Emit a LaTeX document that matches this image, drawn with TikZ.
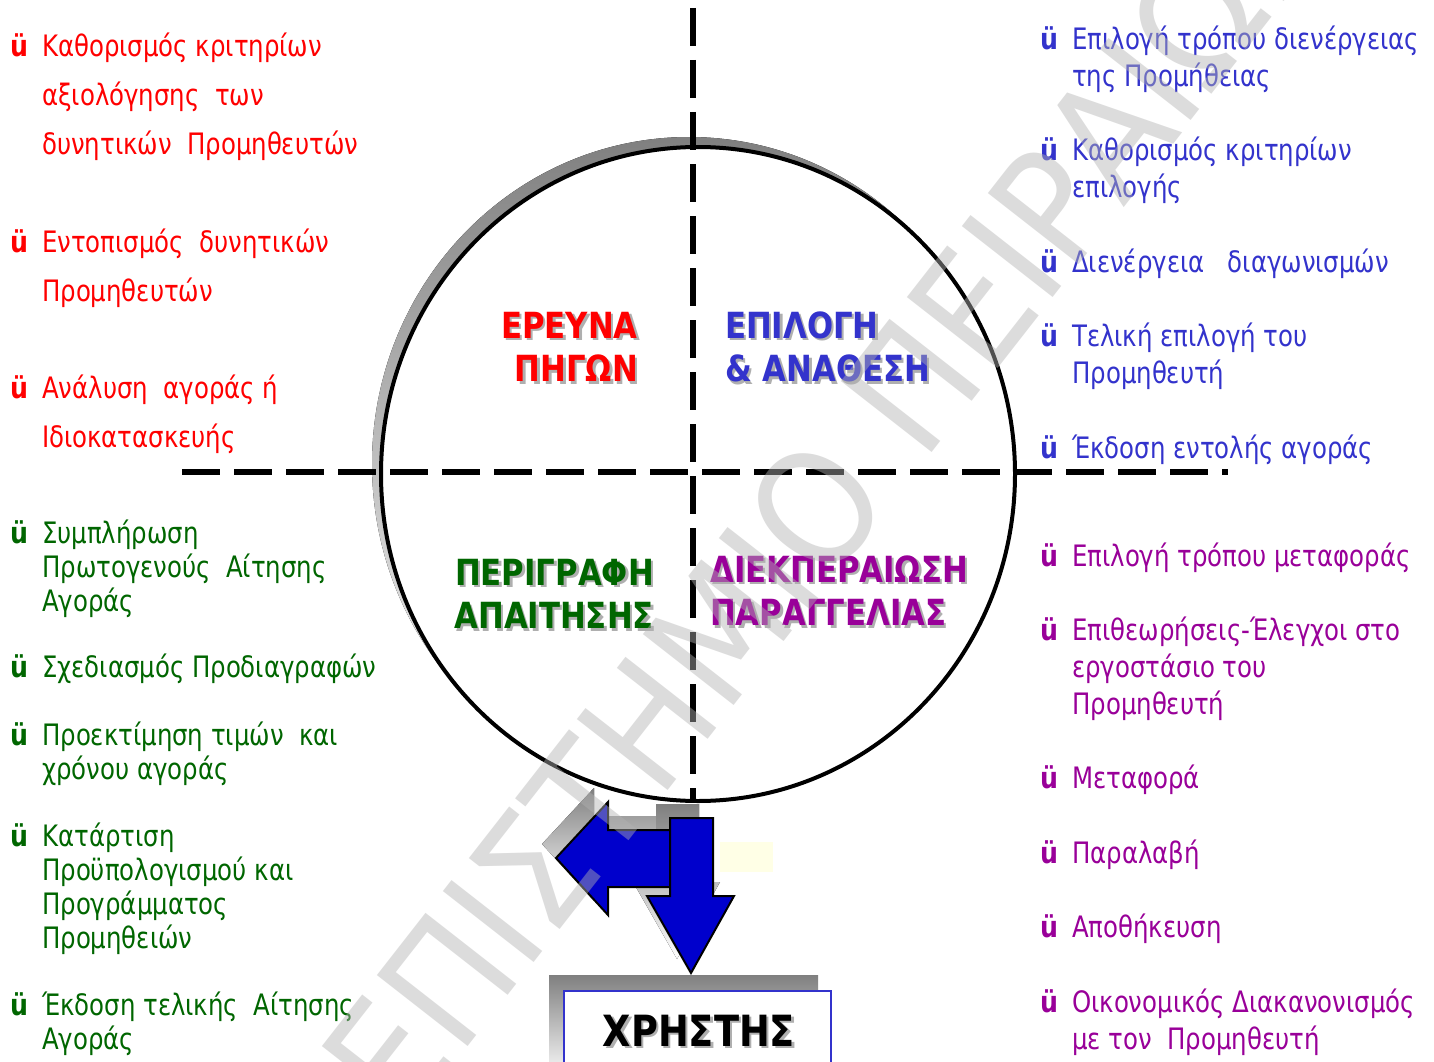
\documentclass[tikz,border=0pt]{standalone}
\usepackage{fontspec}
\setmainfont{DejaVu Sans Condensed}[UprightFeatures={FakeStretch=0.92}, BoldFont={DejaVu Sans Condensed Bold}, BoldFeatures={FakeStretch=0.95}]
\newfontfamily\wmfont{DejaVu Sans Condensed}

\definecolor{rd}{RGB}{255,0,0}
\definecolor{gr}{RGB}{0,102,0}
\definecolor{bl}{RGB}{51,51,204}
\definecolor{pu}{RGB}{153,0,153}
\definecolor{arrowblue}{RGB}{0,0,204}
\definecolor{shade}{RGB}{153,153,153}
\definecolor{txtshade}{RGB}{175,175,175}
\definecolor{pale}{RGB}{255,255,230}
\definecolor{wmgray}{RGB}{178,178,178}

% shadowed heading text
\newcommand{\shd}[1]{\rlap{\kern2.5pt\raisebox{-2.5pt}{\color{txtshade}#1}}#1}
% check-mark item, lines after the first start with &
\newcommand{\chk}[1]{\begin{tabular}[t]{@{}l@{}l@{}}\makebox[32pt][l]{\bfseries ü}&#1\end{tabular}}

\tikzset{
	redpt/.style={anchor=base west, inner sep=0pt, text=rd, font=\fontsize{29.5}{49}\selectfont},
	greenpt/.style={anchor=base west, inner sep=0pt, text=gr, font=\fontsize{29.5}{34}\selectfont},
	bluept/.style={anchor=base west, inner sep=0pt, text=bl, font=\fontsize{29.5}{37}\selectfont},
	purplept/.style={anchor=base west, inner sep=0pt, text=pu, font=\fontsize{29.5}{37}\selectfont},
	heading/.style={inner sep=0pt, font=\fontsize{36}{43.5}\selectfont\bfseries},
	dashline/.style={line width=5.5pt, dash pattern=on 38pt off 14pt},
	blockarrow/.style={draw=black, line width=2pt, fill=arrowblue, line join=miter},
	watermark/.style={inner sep=0pt, rotate=52, anchor=base west, text=wmgray, text opacity=0.45, font=\wmfont\fontsize{158}{160}\selectfont}
}

\begin{document}
\begin{tikzpicture}[x=1pt, y=-1pt]
			%%%%% START %%%%%
			\path[use as bounding box, fill=white] (0,0) rectangle (1434,1062);
			
			% circle with shadow
			\fill[shade] (689,464) ellipse [x radius=317, y radius=327];
			\draw[line width=4pt, fill=white] (698,474) ellipse [x radius=317, y radius=327];
			
			\draw[dashline] (693,8) -- (693,800);
			\draw[dashline] (182,472) -- (1228,472);
			
			% quadrant titles
			\node[heading, text=rd, anchor=base east] (ereuna) at (638,338) {\begin{tabular}[t]{@{}r@{}}\shd{ΕΡΕΥΝΑ}\\\shd{ΠΗΓΩΝ}\end{tabular}};
			\node[heading, text=bl, anchor=base west] (epilogi) at (725,338) {\begin{tabular}[t]{@{}l@{}}\shd{ΕΠΙΛΟΓΗ}\\\shd{\&~ΑΝΑΘΕΣΗ}\end{tabular}};
			\node[heading, text=gr, anchor=base east] (perigrafi) at (654,585) {\begin{tabular}[t]{@{}r@{}}\shd{ΠΕΡΙΓΡΑΦΗ}\\\shd{ΑΠΑΙΤΗΣΗΣ}\end{tabular}};
			\node[heading, text=pu, anchor=base west] (diekp) at (710,582) {\begin{tabular}[t]{@{}l@{}}\shd{ΔΙΕΚΠΕΡΑΙΩΣΗ}\\\shd{ΠΑΡΑΓΓΕΛΙΑΣ}\end{tabular}};
			
			% red points
			\node[redpt] (r1) at (10,57) {\chk{Καθορισμός κριτηρίων\\&αξιολόγησης\ \ των\\&δυνητικών\ \ Προμηθευτών}};
			\node[redpt] (r2) at (10,252) {\chk{Εντοπισμός\ \ δυνητικών\\&Προμηθευτών}};
			\node[redpt] (r3) at (10,398) {\chk{Ανάλυση\ \ αγοράς ή\\&Ιδιοκατασκευής}};
			
			% green points
			\node[greenpt] (g1) at (10,543) {\chk{Συμπλήρωση\\&Πρωτογενούς\ \ Αίτησης\\&Αγοράς}};
			\node[greenpt] (g2) at (10,677) {\chk{Σχεδιασμός Προδιαγραφών}};
			\node[greenpt] (g3) at (10,745) {\chk{Προεκτίμηση τιμών\ \ και\\&χρόνου αγοράς}};
			\node[greenpt] (g4) at (10,846) {\chk{Κατάρτιση\\&Προϋπολογισμού και\\&Προγράμματος\\&Προμηθειών}};
			\node[greenpt] (g5) at (10,1015) {\chk{Έκδοση τελικής\ \ Αίτησης\\&Αγοράς}};
			
			% blue points
			\node[bluept] (b1) at (1040,50) {\chk{Επιλογή τρόπου διενέργειας\\&της Προμήθειας}};
			\node[bluept] (b2) at (1040,160) {\chk{Καθορισμός κριτηρίων\\&επιλογής}};
			\node[bluept] (b3) at (1040,272) {\chk{Διενέργεια\ \ \ διαγωνισμών}};
			\node[bluept] (b4) at (1040,346) {\chk{Τελική επιλογή του\\&Προμηθευτή}};
			\node[bluept] (b5) at (1040,458) {\chk{Έκδοση εντολής αγοράς}};
			
			% purple points
			\node[purplept] (p1) at (1040,566) {\chk{Επιλογή τρόπου μεταφοράς}};
			\node[purplept] (p2) at (1040,640) {\chk{Επιθεωρήσεις-Έλεγχοι στο\\&εργοστάσιο του\\&Προμηθευτή}};
			\node[purplept] (p3) at (1040,788) {\chk{Μεταφορά}};
			\node[purplept] (p4) at (1040,863) {\chk{Παραλαβή}};
			\node[purplept] (p5) at (1040,937) {\chk{Αποθήκευση}};
			\node[purplept] (p6) at (1040,1012) {\chk{Οικονομικός Διακανονισμός\\&με τον\ \ Προμηθευτή}};
			
			% arrows to the user
			\fill[shade] (656,816) -- (594,816) -- (594,788) -- (542,844) -- (594,901) -- (594,873) -- (656,873) -- cycle;
			\fill[shade] (656,804) -- (699,804) -- (699,882) -- (720,882) -- (677,959) -- (633,882) -- (656,882) -- cycle;
			\draw[blockarrow] (670,830) -- (608,830) -- (608,802) -- (556,858) -- (608,915) -- (608,887) -- (670,887) -- cycle;
			\draw[blockarrow] (670,818) -- (713,818) -- (713,896) -- (734,896) -- (691,973) -- (647,896) -- (670,896) -- cycle;
			\fill[pale] (720,842) rectangle (773,872);
			
			% user box
			\fill[shade] (549,975) rectangle (818,1080);
			\draw[line width=2.5pt, draw=bl, fill=white] (564,991) rectangle (831,1080);
			\node[inner sep=0pt, anchor=base, font=\fontsize{43}{50}\selectfont\bfseries] (xristis) at (699,1046) {\shd{ΧΡΗΣΤΗΣ}};
			
			\node[watermark] (wm) at (213,1373) {ΠΑΝΕΠΙΣΤΗΜΙΟ ΠΕΙΡΑΙΩΣ};
			%%%%% END %%%%%
		\end{tikzpicture}
\end{document}
